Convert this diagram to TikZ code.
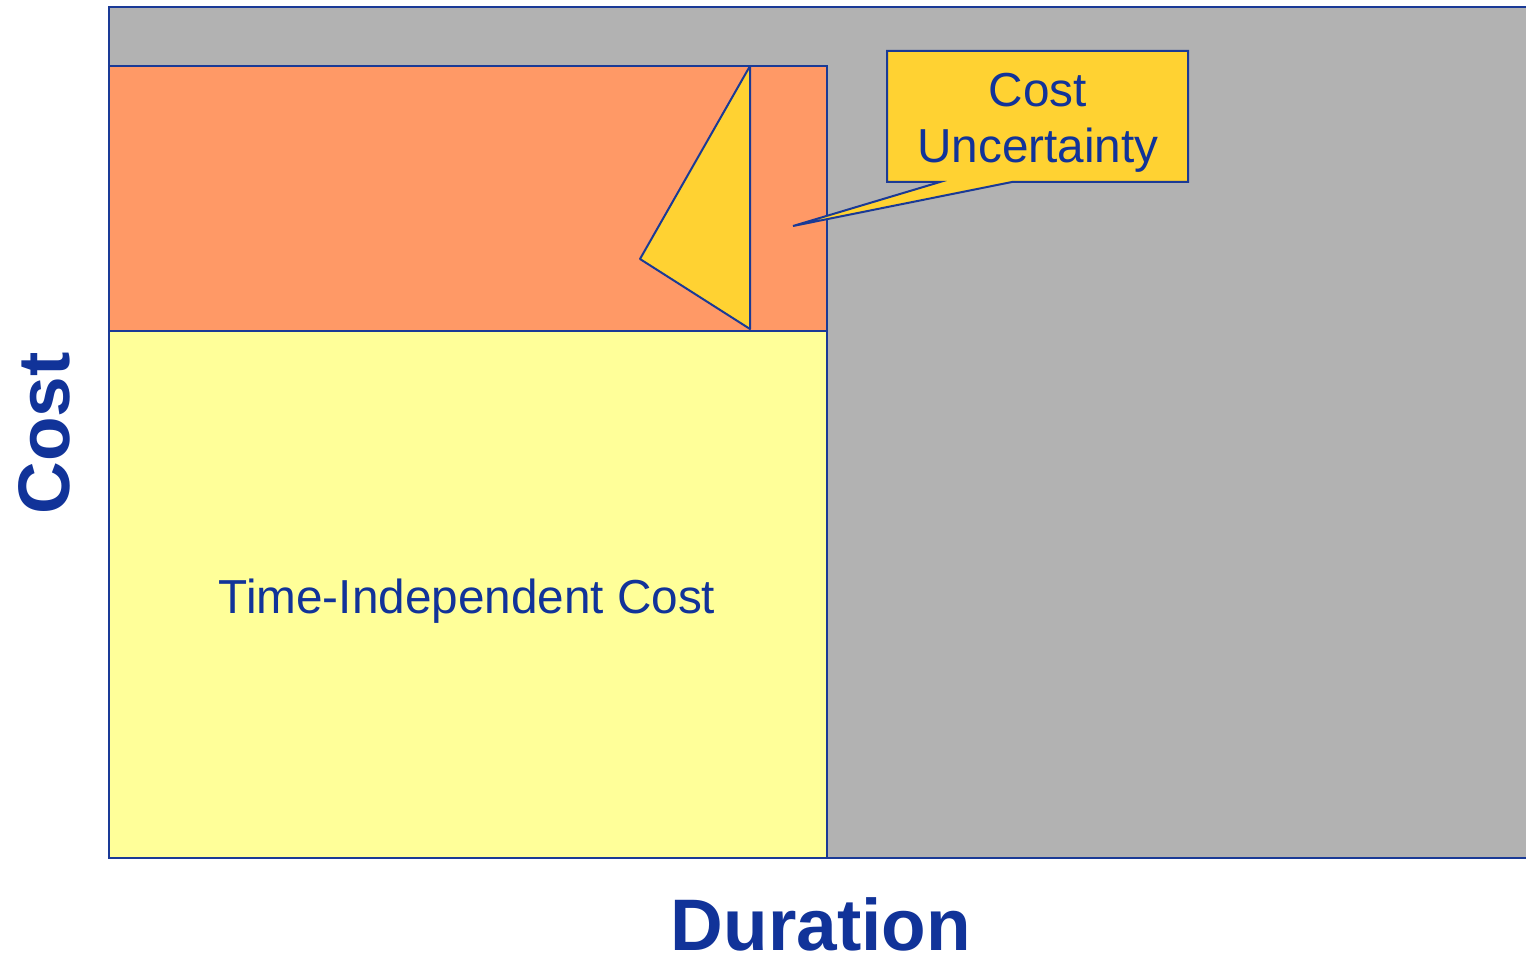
\documentclass[tikz,border=0pt]{standalone}
\usepackage{fontspec}
\setmainfont{Liberation Sans}
\definecolor{bgray}{HTML}{B2B2B2}
\definecolor{orangefill}{HTML}{FF9966}
\definecolor{paleyellow}{HTML}{FFFF99}
\definecolor{gold}{HTML}{FFD232}
\definecolor{navy}{HTML}{113399}
\definecolor{edge}{HTML}{1A3A96}
\tikzset{
  area/.style={draw=edge, line width=2pt},
  lbl/.style={text=navy, inner sep=0pt, anchor=base, font=\fontsize{47.7}{56}\selectfont},
  axislbl/.style={text=navy, inner sep=0pt, anchor=base, font=\fontsize{73}{80}\selectfont\bfseries},
}
\begin{document}
\begin{tikzpicture}[x=1pt,y=-1pt]
\useasboundingbox (0,0) rectangle (1526,957);
% gray background area (right edge runs off the picture)
\fill[bgray] (109,7) rectangle (1540,858);
\draw[edge, line width=2pt] (1540,7) -- (109,7) -- (109,858) -- (1540,858);
% coordinates
\coordinate (oTL) at (109,66);
\coordinate (oBR) at (827,331);
\coordinate (yTL) at (109,331);
\coordinate (yBR) at (827,858);
% orange and yellow blocks
\path[area, fill=orangefill] (oTL) rectangle (oBR);
\path[area, fill=paleyellow] (yTL) rectangle (yBR);
% uncertainty triangle
\coordinate (tA) at (750,66);
\coordinate (tB) at (640,259);
\coordinate (tC) at (750,329);
\path[area, fill=gold, line join=round] (tA) -- (tB) -- (tC) -- cycle;
% callout
\coordinate (cTL) at (887,51);
\coordinate (cTR) at (1188,51);
\coordinate (cBR) at (1188,182);
\coordinate (cBL) at (887,182);
\coordinate (p1) at (1012,182);
\coordinate (tip) at (793,226);
\coordinate (p2) at (940,182);
\path[area, fill=gold, line join=miter] (cTL) -- (cTR) -- (cBR) -- (p1) -- (tip) -- (p2) -- (cBL) -- cycle;
% texts
\node[lbl] (cu1) at (1038,107) {Cost};
\node[lbl] (cu2) at (1038,163) {Uncertainty};
\node[lbl] (tic) at (467,613) {Time-Independent Cost};
\node[axislbl] (dur) at (821,950) {Duration};
\node[axislbl, rotate=90] (cst) at (69,433.5) {Cost};
\end{tikzpicture}
\end{document}
